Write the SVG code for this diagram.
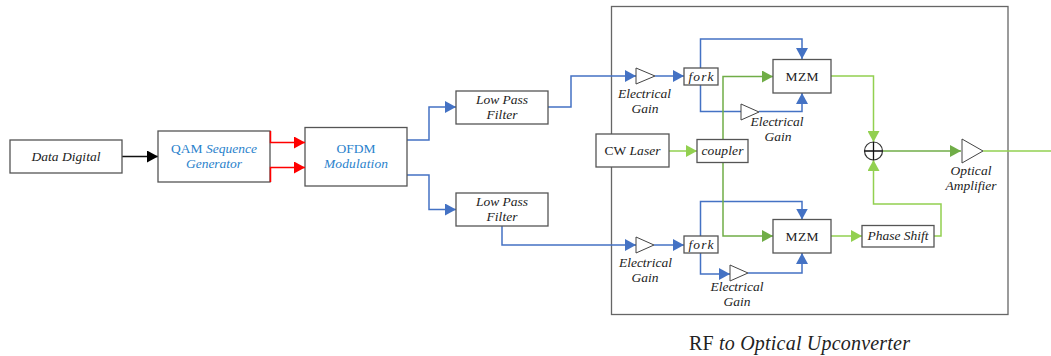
<svg xmlns="http://www.w3.org/2000/svg" width="1051" height="356" viewBox="0 0 1051 356">
<style>
text{font-family:"Liberation Serif","Times New Roman",serif;font-size:13.5px;fill:#222;text-anchor:middle}
.i{font-style:italic}
.c{fill:#2a82cc}
.b{fill:#fff;stroke:#555;stroke-width:1.3}
.t{fill:#fff;stroke:#444;stroke-width:1}
.l{fill:none;stroke-width:1.5}
.blue{stroke:#4472c4}.red{stroke:#f00}.blk{stroke:#111}.gr{stroke:#70ad47}.lg{stroke:#92d050}
</style>
<defs>
<marker id="ablue" markerUnits="userSpaceOnUse" markerWidth="11" markerHeight="12" refX="11" refY="6" orient="auto"><path d="M0 0L11 6L0 12Z" fill="#4472c4"/></marker>
<marker id="ared" markerUnits="userSpaceOnUse" markerWidth="11" markerHeight="12" refX="11" refY="6" orient="auto"><path d="M0 0L11 6L0 12Z" fill="#f00"/></marker>
<marker id="ablk" markerUnits="userSpaceOnUse" markerWidth="11" markerHeight="12" refX="11" refY="6" orient="auto"><path d="M0 0L11 6L0 12Z" fill="#000"/></marker>
<marker id="agr" markerUnits="userSpaceOnUse" markerWidth="11" markerHeight="12" refX="11" refY="6" orient="auto"><path d="M0 0L11 6L0 12Z" fill="#70ad47"/></marker>
<marker id="alg" markerUnits="userSpaceOnUse" markerWidth="11" markerHeight="12" refX="11" refY="6" orient="auto"><path d="M0 0L11 6L0 12Z" fill="#92d050"/></marker>
</defs>
<g id="frame"><rect x="611.5" y="6.5" width="396.5" height="308" fill="none" stroke="#666" stroke-width="1.3"/></g>
<g id="connectors">
<path class="l blk" d="M122 156.500H158" marker-end="url(#ablk)"/>
<path class="l blue" d="M407 140H429V107H456" marker-end="url(#ablue)"/>
<path class="l blue" d="M407 175H429V209.500H456" marker-end="url(#ablue)"/>
<path class="l blue" d="M548 107H571V76H636" marker-end="url(#ablue)"/>
<path class="l blue" d="M502 226V245H636" marker-end="url(#ablue)"/>
<path class="l blue" d="M655 76H684" marker-end="url(#ablue)"/>
<path class="l blue" d="M654 245H684" marker-end="url(#ablue)"/>
<path class="l blue" d="M700.500 68V39H802V59" marker-end="url(#ablue)"/>
<path class="l blue" d="M700.500 85V111.500H741"/>
<path class="l blue" d="M759 111.500H802V93" marker-end="url(#ablue)"/>
<path class="l blue" d="M700.500 236V201.500H802V219.500" marker-end="url(#ablue)"/>
<path class="l blue" d="M700.500 253V274H730" marker-end="url(#ablue)"/>
<path class="l blue" d="M748 273H802V253" marker-end="url(#ablue)"/>
<path class="l lg" d="M669 151H697" marker-end="url(#alg)"/>
<path class="l gr" d="M723 140V76.500H773" marker-end="url(#agr)"/>
<path class="l gr" d="M723 162V236H773" marker-end="url(#agr)"/>
<path class="l lg" d="M831 76H873.500V142" marker-end="url(#alg)"/>
<path class="l lg" d="M831 236H862" marker-end="url(#alg)"/>
<path class="l lg" d="M934 236H941V204H873.500V160" marker-end="url(#alg)"/>
<path class="l gr" d="M883 151H961" marker-end="url(#agr)"/>
<path class="l lg" d="M983 151H1051"/>
</g>
<g id="data-digital"><rect class="b" x="10" y="140" width="112" height="33"/><text class="i" x="66" y="161" textLength="69" lengthAdjust="spacing">Data Digital</text></g>
<g id="qam"><rect class="b" x="158" y="131" width="112" height="51"/><text class="c" x="214" y="153" textLength="86" lengthAdjust="spacing">QAM <tspan class="i c">Sequence</tspan></text><text class="i c" x="214" y="168" textLength="56" lengthAdjust="spacing">Generator</text></g>
<g id="ofdm"><rect class="b" x="305" y="127.500" width="102" height="58.500"/><text class="c" x="356" y="153" textLength="39" lengthAdjust="spacing">OFDM</text><text class="i c" x="356" y="168" textLength="64" lengthAdjust="spacing">Modulation</text></g>
<g id="red-links"><path class="l red" d="M270.500 131V142.500H305" marker-end="url(#ared)"/><path class="l red" d="M270.500 182V167.500H305" marker-end="url(#ared)"/></g>
<g id="lpf1"><rect class="b" x="456" y="91" width="92" height="33"/><text class="i" x="502" y="104" textLength="52" lengthAdjust="spacing">Low Pass</text><text class="i" x="502" y="119" textLength="31" lengthAdjust="spacing">Filter</text></g>
<g id="lpf2"><rect class="b" x="456" y="193" width="92" height="33"/><text class="i" x="502" y="206" textLength="52" lengthAdjust="spacing">Low Pass</text><text class="i" x="502" y="221" textLength="31" lengthAdjust="spacing">Filter</text></g>
<g id="cw-laser"><rect class="b" x="596" y="134" width="73" height="33"/><text x="632.500" y="155" textLength="56" lengthAdjust="spacing">CW <tspan class="i">Laser</tspan></text></g>
<g id="coupler"><rect class="b" x="697" y="139.500" width="51" height="23"/><text class="i" x="722.500" y="155" textLength="42" lengthAdjust="spacing">coupler</text></g>
<g id="fork1"><rect class="b" x="684" y="68" width="34" height="17"/><text class="i" x="701" y="80.500" textLength="25" lengthAdjust="spacing">fork</text></g>
<g id="fork2"><rect class="b" x="684" y="236" width="34" height="17"/><text class="i" x="701" y="249" textLength="25" lengthAdjust="spacing">fork</text></g>
<g id="mzm1"><rect class="b" x="773" y="59.500" width="58" height="33.500"/><text x="802" y="80.500" textLength="33" lengthAdjust="spacing">MZM</text></g>
<g id="mzm2"><rect class="b" x="773" y="219.500" width="58" height="33.500"/><text x="802" y="240.500" textLength="33" lengthAdjust="spacing">MZM</text></g>
<g id="phase-shift"><rect class="b" x="862" y="225.500" width="72" height="21.500"/><text class="i" x="898" y="240" textLength="61" lengthAdjust="spacing">Phase Shift</text></g>
<g id="gain1"><path class="t" d="M636 68V84L655 76Z"/><text class="i" x="644.500" y="98" textLength="53" lengthAdjust="spacing">Electrical</text><text class="i" x="645" y="113" textLength="27" lengthAdjust="spacing">Gain</text></g>
<g id="gain2"><path class="t" d="M741 104V120L759 112Z"/><text class="i" x="777" y="126" textLength="53" lengthAdjust="spacing">Electrical</text><text class="i" x="778" y="141" textLength="27" lengthAdjust="spacing">Gain</text></g>
<g id="gain3"><path class="t" d="M636 237V253L654 245Z"/><text class="i" x="645.500" y="267" textLength="53" lengthAdjust="spacing">Electrical</text><text class="i" x="645" y="282" textLength="27" lengthAdjust="spacing">Gain</text></g>
<g id="gain4"><path class="t" d="M730 265V281L748 273Z"/><text class="i" x="737" y="291" textLength="53" lengthAdjust="spacing">Electrical</text><text class="i" x="737" y="306" textLength="27" lengthAdjust="spacing">Gain</text></g>
<g id="sum"><circle cx="873.500" cy="151" r="9" fill="#fff" stroke="#333" stroke-width="1.2"/><path d="M864.500 151H882.500M873.500 142V160" stroke="#111" stroke-width="1.3"/></g>
<g id="optical-amp"><path class="t" d="M962 139V163L983 151Z"/><text class="i" x="971" y="175" textLength="41" lengthAdjust="spacing">Optical</text><text class="i" x="971" y="190" textLength="51" lengthAdjust="spacing">Amplifier</text></g>
<g id="title"><text x="799.500" y="350" style="font-size:20px" textLength="221" lengthAdjust="spacing">RF <tspan class="i">to Optical Upconverter</tspan></text></g>
</svg>
